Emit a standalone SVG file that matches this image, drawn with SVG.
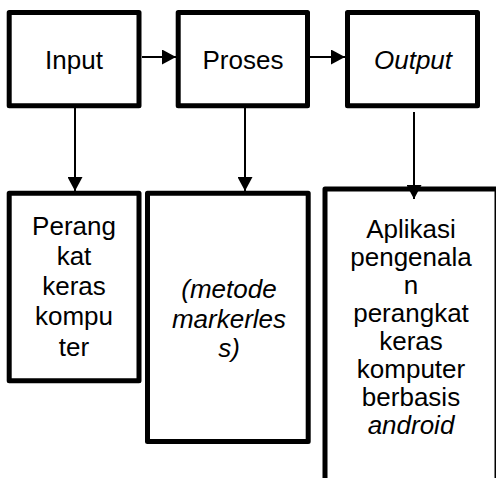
<svg xmlns="http://www.w3.org/2000/svg" width="496" height="478" viewBox="0 0 496 478">
<defs>
<style>
.box{fill:#fff;stroke:#000;stroke-width:5;stroke-linejoin:round}
.t{font-family:"Liberation Sans",Arial,sans-serif;font-size:26px;fill:#000;text-anchor:middle}
.i{font-style:italic}
.c{stroke:#000;stroke-width:2;fill:none}
</style>
<marker id="ah" markerUnits="userSpaceOnUse" markerWidth="14" markerHeight="15" refX="14" refY="7.5" orient="auto" viewBox="0 0 14 15">
<path d="M0,0 L14,7.5 L0,15 Z" fill="#000"/>
</marker>
</defs>
<rect width="496" height="478" fill="#fff"/>
<g id="input">
<rect class="box" x="9.2" y="12.5" width="129.8" height="93.2"/>
<text class="t" x="74" y="69">Input</text>
</g>
<g id="proses">
<rect class="box" x="178.2" y="12.5" width="129.3" height="93.2"/>
<text class="t" x="243" y="69">Proses</text>
</g>
<g id="output">
<rect class="box" x="347.5" y="12.5" width="130" height="93.2"/>
<text class="t i" x="413" y="69">Output</text>
</g>
<g id="perangkat">
<rect class="box" x="9.2" y="193.3" width="129.8" height="187.4"/>
<text class="t" x="74" y="235">Perang</text>
<text class="t" x="74" y="265">kat</text>
<text class="t" x="74" y="295">keras</text>
<text class="t" x="74" y="325">kompu</text>
<text class="t" x="74" y="356">ter</text>
</g>
<g id="metode">
<rect class="box" x="147.5" y="193.3" width="160.7" height="248.2"/>
<text class="t i" x="229" y="298">(metode</text>
<text class="t i" x="229" y="328">markerles</text>
<text class="t i" x="229" y="357">s)</text>
</g>
<g id="aplikasi">
<rect class="box" x="325" y="189" width="172" height="293"/>
<text class="t" x="411" y="238">Aplikasi</text>
<text class="t" x="411" y="266">pengenala</text>
<text class="t" x="411" y="294">n</text>
<text class="t" x="411" y="322">perangkat</text>
<text class="t" x="411" y="350">keras</text>
<text class="t" x="411" y="378">komputer</text>
<text class="t" x="411" y="406">berbasis</text>
<text class="t i" x="411" y="434">android</text>
</g>
<g id="connectors">
<path class="c" d="M142,57 L176,57" marker-end="url(#ah)"/>
<path class="c" d="M310,57 L345,57" marker-end="url(#ah)"/>
<path class="c" d="M75,108 L75,191" marker-end="url(#ah)"/>
<path class="c" d="M245,108 L245,191" marker-end="url(#ah)"/>
<path class="c" d="M414,112 L414,199" marker-end="url(#ah)"/>
</g>
</svg>
